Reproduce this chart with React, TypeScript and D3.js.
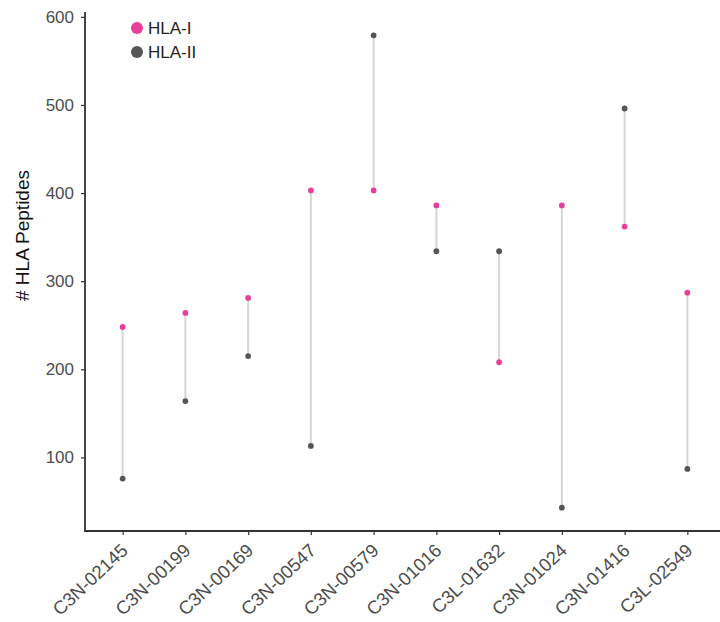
import React, { useEffect, useRef } from 'react'
import * as d3 from 'd3'

// sample ids along the x axis
const samples = [
  'C3N-02145', 'C3N-00199', 'C3N-00169', 'C3N-00547', 'C3N-00579',
  'C3N-01016', 'C3L-01632', 'C3N-01024', 'C3N-01416', 'C3L-02549',
]
// peptide counts
const hla1 = [248, 264, 281, 403, 403, 386, 208, 386, 362, 287]
const hla2 = [76, 164, 215, 113, 579, 334, 334, 43, 496, 87]
const yTicks = [100, 200, 300, 400, 500, 600]
const legendLabels = ['HLA-I', 'HLA-II']

const PINK = '#E8409A'
const GREY = '#555555'

export default function App() {
  const ref = useRef<SVGSVGElement>(null)

  useEffect(() => {
    document.body.style.margin = '0'
    const svg = d3.select(ref.current)
    svg.selectAll('*').remove()

    const width = 720
    const margin = { top: 12, right: -5, bottom: 91, left: 85 }
    const height = 622
    const font = "'Liberation Sans', Arial, sans-serif"

    const x = d3.scalePoint<string>()
      .domain(samples)
      .range([margin.left, width - margin.right])
      .padding(0.6)
    const y = d3.scaleLinear()
      .domain([16.5, 605.5])
      .range([height - margin.bottom, margin.top])

    const rows = samples.map((s, i) => ({ s, a: hla1[i], b: hla2[i] }))

    // segments
    svg.append('g')
      .selectAll('line')
      .data(rows).enter()
      .append('line')
      .attr('x1', d => x(d.s)!)
      .attr('x2', d => x(d.s)!)
      .attr('y1', d => y(d.a))
      .attr('y2', d => y(d.b))
      .attr('stroke', '#d6d6d6')
      .attr('stroke-width', 2)

    const pts = svg.append('g')
    pts.selectAll('circle.b')
      .data(rows).enter()
      .append('circle')
      .attr('cx', d => x(d.s)!)
      .attr('cy', d => y(d.b))
      .attr('r', 2.9)
      .attr('fill', GREY)
    pts.selectAll('circle.a')
      .data(rows).enter()
      .append('circle')
      .attr('cx', d => x(d.s)!)
      .attr('cy', d => y(d.a))
      .attr('r', 2.9)
      .attr('fill', PINK)

    // y axis
    const yAxis = svg.append('g')
      .attr('transform', `translate(${margin.left},0)`)
      .call(d3.axisLeft(y).tickValues(yTicks).tickSize(4).tickPadding(7).tickFormat(d3.format('d')))
    yAxis.select('.domain').attr('stroke', '#333').attr('stroke-width', 1.8)
      .attr('d', `M0,${margin.top}V${height - margin.bottom}`)
    yAxis.selectAll('.tick line').attr('stroke', '#333').attr('stroke-width', 1.2)
    yAxis.selectAll('.tick text')
      .attr('fill', '#4d4d4d')
      .style('font', `17px ${font}`)

    // x axis
    const xAxis = svg.append('g')
      .attr('transform', `translate(0,${height - margin.bottom})`)
      .call(d3.axisBottom(x).tickSize(4).tickSizeOuter(0))
    xAxis.select('.domain').attr('stroke', '#333').attr('stroke-width', 1.8)
      .attr('d', `M${margin.left - 1},0H${width}`)
    xAxis.selectAll('.tick line').attr('stroke', '#333').attr('stroke-width', 1.2)
    xAxis.selectAll('.tick text')
      .attr('fill', '#4d4d4d')
      .style('font', `18.5px ${font}`)
      .attr('text-anchor', 'end')
      .attr('y', 0)
      .attr('dy', 0)
      .attr('transform', 'translate(6,21) rotate(-43)')

    // y label
    svg.append('text')
      .attr('transform', `translate(29,${(margin.top + height - margin.bottom) / 2 - 36}) rotate(-90)`)
      .attr('text-anchor', 'middle')
      .style('font', `19px ${font}`)
      .attr('fill', '#111')
      .text('# HLA Peptides')

    // legend
    const lg = svg.append('g').attr('transform', 'translate(137,28)')
    const items = lg.selectAll('g')
      .data(legendLabels).enter()
      .append('g')
      .attr('transform', (d, i) => `translate(0,${i * 24})`)
    items.append('circle')
      .attr('r', 6)
      .attr('fill', (d, i) => (i === 0 ? PINK : GREY))
    items.append('text')
      .attr('x', 11)
      .attr('dy', '0.36em')
      .style('font', `17px ${font}`)
      .attr('fill', '#222')
      .text(d => d)
  }, [])

  return <svg ref={ref} width={720} height={622} style={{ display: 'block' }}></svg>
}
